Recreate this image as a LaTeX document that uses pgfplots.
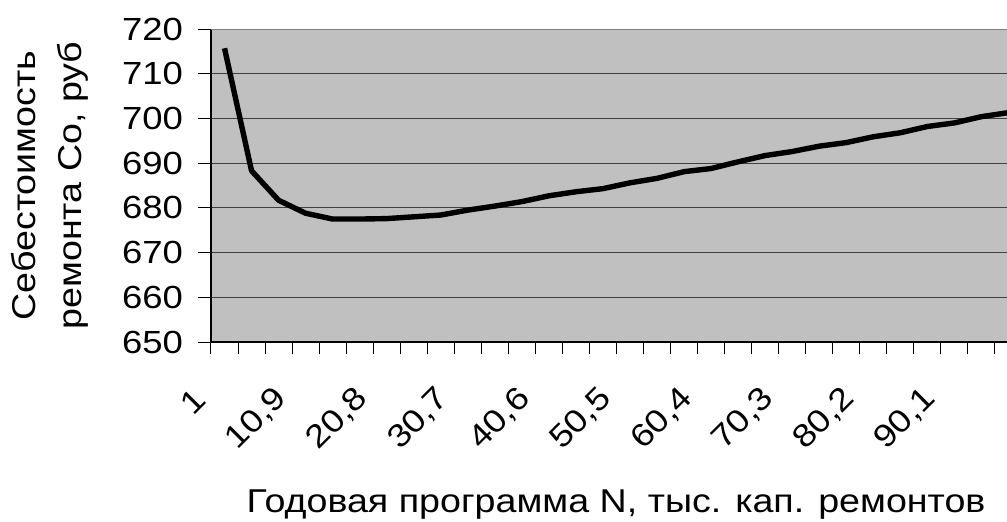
\documentclass[border=0pt]{standalone}
\usepackage{fontspec}
\setmainfont{Liberation Sans}[FakeStretch=1.14]
\usepackage{pgfplots}
\pgfplotsset{compat=1.18}

\definecolor{plotbg}{RGB}{192,192,192}
\definecolor{gridcol}{RGB}{64,64,64}
\definecolor{topcol}{RGB}{128,128,128}

% 1 px of the reference = 0.5pt
\pgfplotstableread{
i   co
0   715.7
1   688.3
2   681.7
3   678.8
4   677.5
5   677.5
6   677.6
7   678.0
8   678.4
9   679.5
10  680.4
11  681.4
12  682.7
13  683.6
14  684.3
15  685.6
16  686.6
17  688.1
18  688.8
19  690.3
20  691.7
21  692.6
22  693.8
23  694.6
24  695.9
25  696.8
26  698.2
27  699.0
28  700.4
29  701.3
30  702.5
}\costdata

\begin{document}
\begin{tikzpicture}
  \path[use as bounding box] (0,0) rectangle (503.5pt,260.5pt);
  \clip (0,0) rectangle (503.5pt,260.5pt);
  \begin{axis}[
      at={(105.5pt,89.5pt)}, anchor=south west,
      scale only axis, width=419pt, height=156.5pt,
      xmin=-0.5, xmax=30.5, ymin=650, ymax=720,
      axis x line*=bottom, axis y line*=left,
      axis line style={-, draw=black, line width=0.8pt},
      axis background/.style={fill=plotbg},
      xtick={0,3,...,27},
      xticklabels={1,{10,9},{20,8},{30,7},{40,6},{50,5},{60,4},{70,3},{80,2},{90,1}},
      minor xtick={-0.5,0.5,...,30.5},
      major x tick style={draw=none},
      minor x tick style={draw=black, line width=0.5pt},
      ytick={650,660,...,720},
      ytick style={draw=black, line width=0.5pt},
      tick align=outside,
      major tick length=6.5pt, minor tick length=6pt,
      ymajorgrids,
      grid style={draw=gridcol, line width=0.5pt},
      /pgf/number format/assume math mode=true,
      tick label style={font=\fontsize{16}{19}\selectfont},
      yticklabel style={anchor=east, xshift=-4pt},
      xticklabel style={xshift=-9.5pt, yshift=-17pt, rotate=45, anchor=east},
      label style={font=\fontsize{16.5}{23}\selectfont},
      xlabel={Годовая программа N, тыс. кап. ремонтов},
      xlabel style={at={(rel axis cs:0.4833,0)}, anchor=base, yshift=-85pt},
      ylabel={Себестоимость\\ремонта Со, руб},
      ylabel style={at={(rel axis cs:0,0.5)}, anchor=center, yshift=80.5pt, align=center},
    ]
    \draw[topcol, line width=0.75pt] (rel axis cs:0,1) -- (rel axis cs:1,1);
    \addplot[black, line width=2.7pt, line join=round] table[x=i, y=co] {\costdata};
  \end{axis}
\end{tikzpicture}
\end{document}
